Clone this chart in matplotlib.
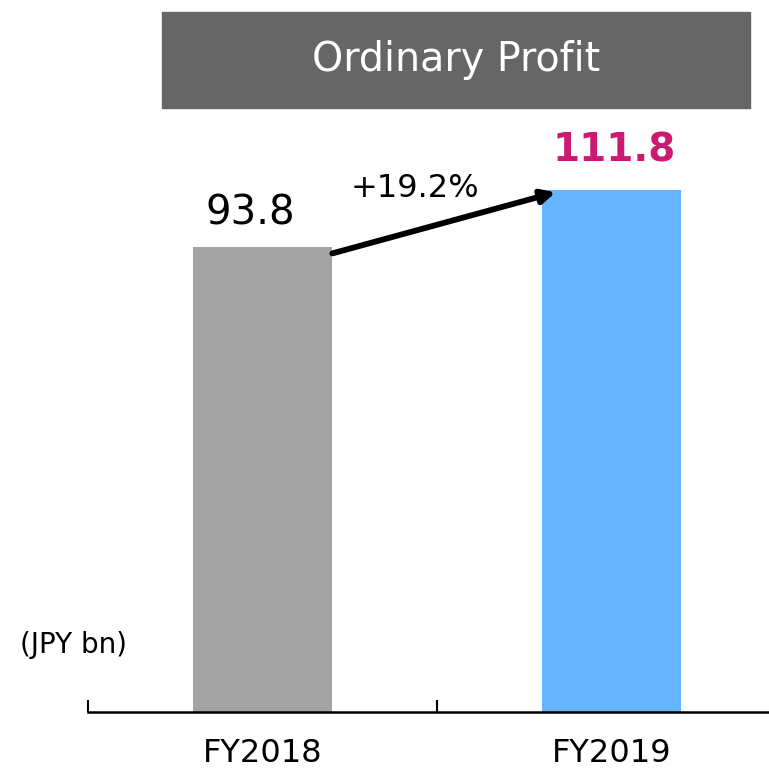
import numpy as np
import matplotlib
matplotlib.use('Agg')
import matplotlib.pyplot as plt
from matplotlib.patches import Rectangle

years  = ['FY2018', 'FY2019']
values = [93.8, 111.8]
growth = '+19.2%'
title  = 'Ordinary Profit'
unit   = '(JPY bn)'

colors   = ['#A3A3A3', '#66B3FF']
BASE     = -53.0      # where the drawn axis sits (chart is truncated)
BAR_W    = 0.40

plt.rcParams['font.family'] = ['DejaVu Sans']

fig = plt.figure(figsize=(7.69, 7.74), dpi=100)
ax = fig.add_axes([88/769, 62/774, 681/769, 712/774])
ax.patch.set_alpha(0)

x = np.arange(len(years))
v = np.array(values)
ax.bar(x, v - BASE, bottom=BASE, width=BAR_W, color=colors, zorder=2)

for s in ['top', 'right', 'left']:
    ax.spines[s].set_visible(False)
ax.spines['bottom'].set_linewidth(1.8)
ax.spines['bottom'].set_color('black')
ax.set_yticks([])

# category labels centred under bars, tick marks between categories
ax.set_xticks(x)
ax.set_xticklabels(years, fontsize=23)
ax.tick_params(axis='x', which='major', length=0, pad=19)
ax.set_xticks([-0.5, 0.5, 1.5], minor=True)
ax.tick_params(axis='x', which='minor', direction='in', length=9, width=1.5)

# limits after ticks (set_xticks can widen the view)
ax.set_xlim(-0.5, -0.5 + 681/349)
ax.set_ylim(BASE, BASE + 712/3.167)

# value labels
ax.annotate(f'{values[0]:.1f}', (x[0], v[0]), xytext=(-9, 10), textcoords='offset points',
            ha='center', va='bottom', fontsize=29, color='black')
ax.annotate(f'{values[1]:.1f}', (x[1], v[1]), xytext=(2, 15), textcoords='offset points',
            ha='center', va='bottom', fontsize=28, fontweight='bold', color='#CC1A73')

# growth arrow
ax.annotate('', xy=(x[1] - BAR_W/2 + 0.04, v[1] - 0.7),
            xytext=(x[0] + BAR_W/2, v[0] - 2.0),
            arrowprops=dict(arrowstyle='-|>,head_length=0.8,head_width=0.4',
                            lw=4.2, color='black', shrinkA=0, shrinkB=0))
ax.text(0.437, 109.6, growth, ha='center', va='baseline', fontsize=23, color='black')

# title box
fig.patches.append(Rectangle((162/769, (774-108)/774), 588/769, 96/774,
                             transform=fig.transFigure, color='#666666', zorder=0))
fig.text(456/769, (774-60)/774, title, ha='center', va='center',
         fontsize=28.5, color='white')

fig.text(20/769, (774-645)/774, unit, ha='left', va='center', fontsize=20)

fig.savefig('out.png', dpi=100)
